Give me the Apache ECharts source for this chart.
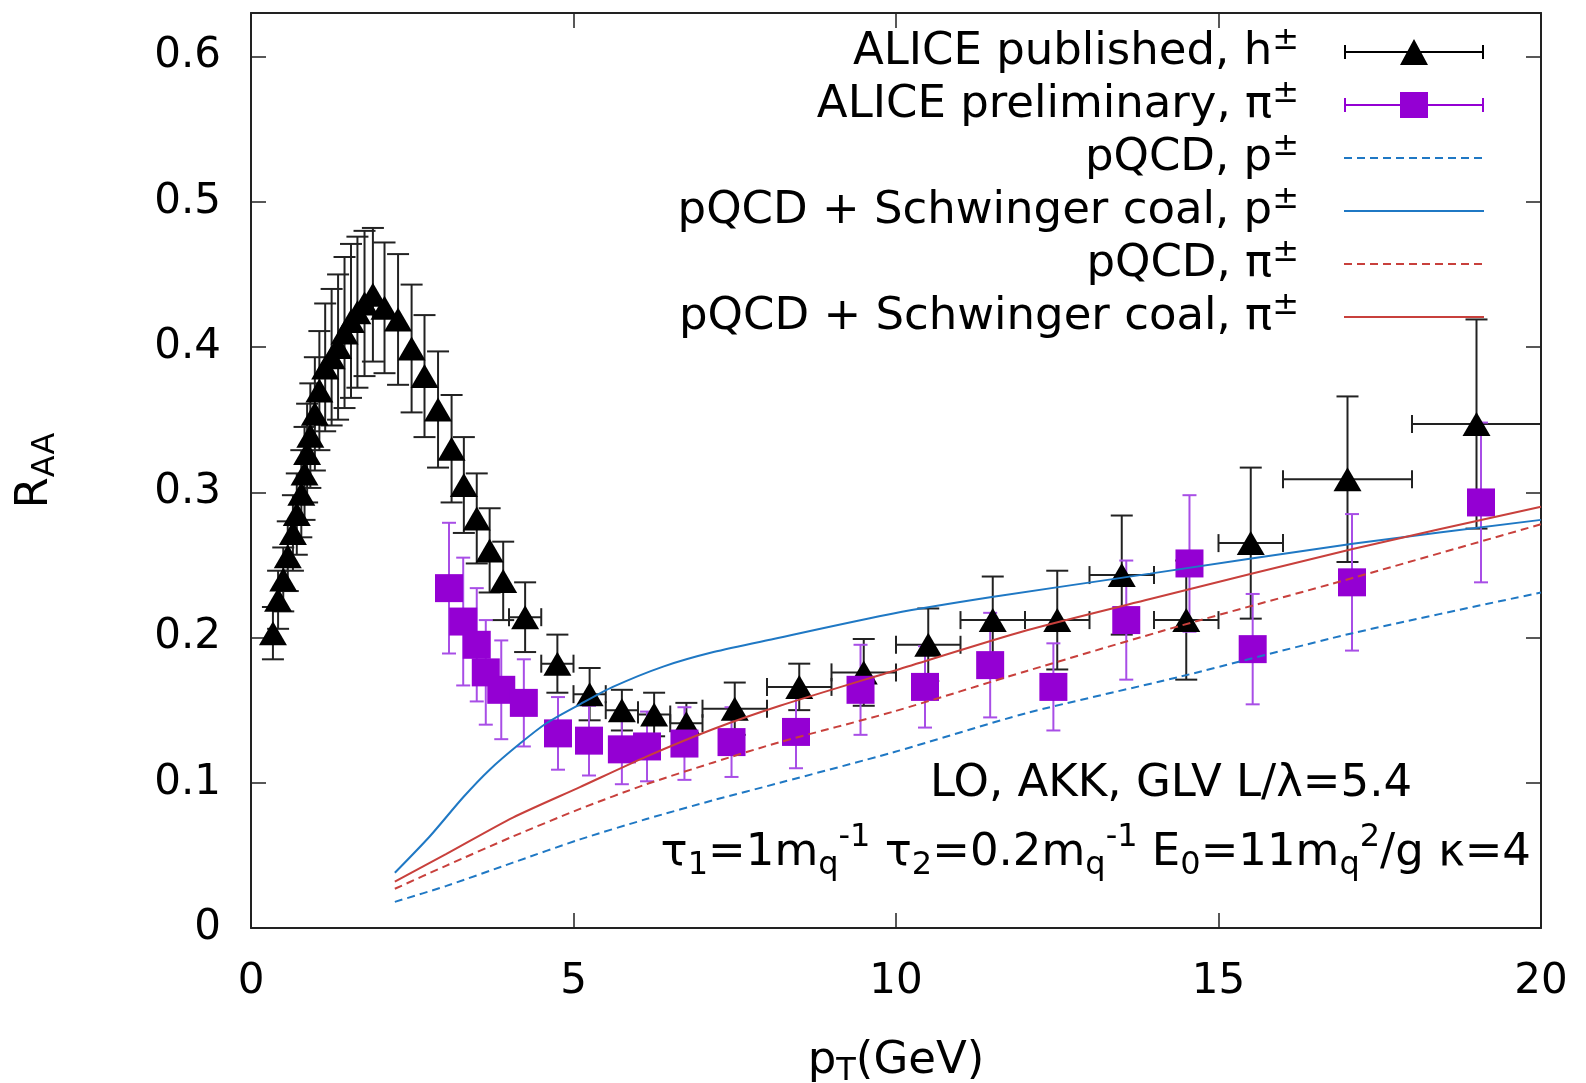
<!DOCTYPE html>
<html><head><meta charset="utf-8">
<script src="https://cdn.jsdelivr.net/npm/echarts/dist/echarts.min.js"></script>
<style>html,body{margin:0;padding:0;background:#fff}#c{width:1586px;height:1083px}</style>
</head><body><div id="c"></div>
<script>
const FONT = 'DejaVu Sans';

// ALICE published, h± (black triangles)
const hX = [0.34,0.42,0.50,0.57,0.65,0.71,0.78,0.83,0.87,0.92,0.99,1.06,1.15,1.25,1.35,1.45,1.55,1.65,1.76,1.89,
            2.07,2.28,2.49,2.69,2.90,3.11,3.30,3.50,3.70,3.91,
            4.25,4.75,5.25,5.75,6.25,6.75,
            7.5,8.5,9.5,10.5,11.5,12.5,13.5,14.5,15.5,17,19];
const hY = [0.203,0.226,0.240,0.256,0.272,0.285,0.299,0.313,0.327,0.339,0.354,0.370,0.386,0.393,0.400,0.410,0.418,0.424,0.430,0.436,
            0.427,0.419,0.399,0.380,0.357,0.330,0.305,0.282,0.260,0.239,
            0.214,0.182,0.161,0.150,0.147,0.141,
            0.151,0.166,0.176,0.195,0.212,0.212,0.243,0.212,0.265,0.309,0.347];
const hErrY = [0.018,0.020,0.022,0.024,0.026,0.028,0.030,0.032,0.034,0.036,0.039,0.041,0.044,0.047,0.050,0.052,0.053,0.052,0.050,0.046,
               0.045,0.045,0.044,0.042,0.040,0.037,0.033,0.031,0.029,0.027,
               0.024,0.020,0.018,0.014,0.015,0.014,
               0.018,0.016,0.023,0.025,0.030,0.034,0.041,0.041,0.052,0.057,0.072];
const hErrX = [0,0,0,0,0,0,0,0,0,0,0,0,0,0,0,0,0,0,0,0,
               0,0,0,0,0,0,0,0,0,0,
               0.25,0.25,0.25,0.25,0.25,0.25,
               0.5,0.5,0.5,0.5,0.5,0.5,0.5,0.5,0.5,1,1];

// ALICE preliminary, π± (purple squares)
const piX = [3.07,3.29,3.50,3.64,3.88,4.23,4.76,5.24,5.75,6.14,6.72,7.45,8.45,9.45,10.45,11.46,12.44,13.57,14.55,15.53,17.07,19.07];
const piY = [0.234,0.211,0.195,0.176,0.164,0.155,0.134,0.129,0.123,0.125,0.127,0.128,0.135,0.164,0.166,0.181,0.166,0.212,0.251,0.192,0.238,0.293];
const piErrY = [0.045,0.044,0.039,0.036,0.034,0.030,0.025,0.024,0.024,0.024,0.025,0.024,0.025,0.031,0.028,0.036,0.030,0.041,0.047,0.038,0.047,0.055];

// Model curves
const pqcdP_X = [2.23,3.03,4.06,5.10,6.13,7.17,8.2,9.96,12.03,14.4,17.08,20];
const pqcdP_Y = [0.018,0.029,0.045,0.061,0.075,0.088,0.100,0.121,0.148,0.173,0.203,0.231];
const coalP_X = [2.23,2.77,3.29,3.70,4.17,4.58,5.10,5.61,6.39,7.17,8.10,9.96,11.51,13.94,17.08,20];
const coalP_Y = [0.038,0.063,0.090,0.109,0.127,0.141,0.154,0.166,0.180,0.190,0.199,0.2165,0.228,0.244,0.2645,0.281];
const pqcdPi_X = [2.23,3.03,4.06,5.10,6.13,7.17,8.2,9.96,12.03,14.4,17.08,20];
const pqcdPi_Y = [0.027,0.043,0.063,0.082,0.099,0.114,0.128,0.149,0.177,0.208,0.241,0.278];
const coalPi_X = [2.23,3.03,4.06,5.10,6.13,7.17,8.2,9.96,12.03,13.94,17.08,20];
const coalPi_Y = [0.032,0.051,0.076,0.097,0.118,0.137,0.153,0.177,0.205,0.2265,0.261,0.290];

const xTicks = [0,5,10,15,20];
const yTicks = [0,0.1,0.2,0.3,0.4,0.5,0.6];

const names = ['ALICE published, h±','ALICE preliminary, π±','pQCD, p±','pQCD + Schwinger coal, p±','pQCD, π±','pQCD + Schwinger coal, π±'];
const BLUE = '#1f78c4', RED = '#c8403c', PURPLE = '#9400d3', PURPLE_ERR = '#a84ee6';

function pairs(xs, ys){ return xs.map((x,i)=>[x, ys[i]]); }

function errBars(nm, xs, ys, ey, ex, color, cap, hcap){
  return {
    type:'custom', name:nm, silent:true, clip:true,
    data: xs.map((x,i)=>[x, ys[i], ey[i], ex ? ex[i] : 0]),
    encode:{x:0, y:1},
    renderItem(params, api){
      const x=api.value(0), y=api.value(1), e=api.value(2), h=api.value(3);
      const c=api.coord([x,y]), t=api.coord([x,y+e]), b=api.coord([x,y-e]);
      const st=()=>({stroke:color, lineWidth:2});
      const ch=[
        {type:'line', shape:{x1:c[0],y1:t[1],x2:c[0],y2:b[1]}, style:st()},
        {type:'line', shape:{x1:c[0]-cap/2,y1:t[1],x2:c[0]+cap/2,y2:t[1]}, style:st()},
        {type:'line', shape:{x1:c[0]-cap/2,y1:b[1],x2:c[0]+cap/2,y2:b[1]}, style:st()}
      ];
      if (h>0){
        const l=api.coord([x-h,y]), r=api.coord([x+h,y]);
        ch.push({type:'line', shape:{x1:l[0],y1:c[1],x2:r[0],y2:c[1]}, style:st()});
        ch.push({type:'line', shape:{x1:l[0],y1:c[1]-hcap/2,x2:l[0],y2:c[1]+hcap/2}, style:st()});
        ch.push({type:'line', shape:{x1:r[0],y1:c[1]-hcap/2,x2:r[0],y2:c[1]+hcap/2}, style:st()});
      }
      return {type:'group', children:ch};
    }
  };
}

function curve(nm, xs, ys, color, dashed){
  return {
    type:'line', name:nm, data:pairs(xs,ys), smooth:0.25, symbol:'none',
    lineStyle:{color:color, width:2, type: dashed ? [8,5] : 'solid'},
    itemStyle:{color:color}, z:5
  };
}

// legend icon paths (box 140 x 26); tiny corner squares fix the bounding box
const BOX = 'M0,0h0.01v0.01h-0.01z M139.99,25.99h0.01v0.01h-0.01z ';
const solidIcon = 'path://' + BOX + 'M0,12h140v2h-140z';
let dashPath = '';
for (let x = 0; x < 140; x += 13) dashPath += 'M' + x + ',12h' + Math.min(8, 140 - x) + 'v2h-' + Math.min(8, 140 - x) + 'z ';
const dashIcon = 'path://' + BOX + dashPath;

const axisLineStyle = {color:'#222', width:2};
const tickStyle = {color:'#222', width:1.5};

const chart = echarts.init(document.getElementById('c'), null, {renderer:'canvas'});
chart.setOption({
  animation:false,
  backgroundColor:'#fff',
  textStyle:{fontFamily:FONT},
  grid:{left:251, right:45, top:13, bottom:155, containLabel:false, outerBoundsMode:'none'},
  xAxis:[
    {type:'value', position:'bottom', min:xTicks[0], max:xTicks[xTicks.length-1], interval:xTicks[1]-xTicks[0],
     axisLine:{show:true, onZero:false, lineStyle:axisLineStyle},
     axisTick:{show:true, inside:true, length:15, lineStyle:tickStyle},
     axisLabel:{fontSize:42, color:'#000', fontFamily:FONT, margin:33},
     splitLine:{show:false},
     name:'{a|p}{b|T}{a|(GeV)}', nameLocation:'middle', nameGap:107,
     nameTextStyle:{color:'#000', fontFamily:FONT, fontSize:45,
       rich:{a:{fontSize:45, fontFamily:FONT, color:'#000', lineHeight:52},
             b:{fontSize:32, fontFamily:FONT, color:'#000', lineHeight:24, padding:[22,0,0,0]}}}},
    {type:'value', position:'top', min:xTicks[0], max:xTicks[xTicks.length-1], interval:xTicks[1]-xTicks[0],
     axisLine:{show:true, onZero:false, lineStyle:axisLineStyle},
     axisTick:{show:true, inside:true, length:15, lineStyle:tickStyle},
     axisLabel:{show:false}, splitLine:{show:false}}
  ],
  yAxis:[
    {type:'value', position:'left', min:yTicks[0], max:0.63, interval:yTicks[1]-yTicks[0],
     axisLine:{show:true, onZero:false, lineStyle:axisLineStyle},
     axisTick:{show:true, inside:true, length:15, lineStyle:tickStyle},
     axisLabel:{fontSize:42, color:'#000', fontFamily:FONT, margin:30, showMaxLabel:false,
       formatter:v=> v===0 ? '0' : v.toFixed(1)},
     splitLine:{show:false},
     name:'{a|R}{b|AA}', nameLocation:'middle', nameGap:190, nameRotate:90,
     nameTextStyle:{color:'#000', fontFamily:FONT, fontSize:45,
       rich:{a:{fontSize:45, fontFamily:FONT, color:'#000', lineHeight:52},
             b:{fontSize:32, fontFamily:FONT, color:'#000', lineHeight:24, padding:[22,0,0,0]}}}},
    {type:'value', position:'right', min:yTicks[0], max:0.63, interval:yTicks[1]-yTicks[0],
     axisLine:{show:true, onZero:false, lineStyle:axisLineStyle},
     axisTick:{show:true, inside:true, length:15, lineStyle:tickStyle},
     axisLabel:{show:false}, splitLine:{show:false}}
  ],
  legend:{
    orient:'vertical', right:97, top:20, align:'right', itemGap:-1,
    itemWidth:140, itemHeight:26, selectedMode:false, padding:5,
    data:[
      {name:names[0], icon:'path://M0,6h2v14h-2z M0,12h140v2h-140z M138,6h2v14h-2z M56,26L70,0L84,26z', itemStyle:{borderWidth:0, color:'#000'}},
      {name:names[1], icon:'path://M0,6h2v14h-2z M0,12h140v2h-140z M138,6h2v14h-2z M56,0h28v26h-28z', itemStyle:{borderWidth:0, color:PURPLE}},
      {name:names[2], icon:dashIcon, itemStyle:{borderWidth:0, color:BLUE}},
      {name:names[3], icon:solidIcon, itemStyle:{borderWidth:0, color:BLUE}},
      {name:names[4], icon:dashIcon, itemStyle:{borderWidth:0, color:RED}},
      {name:names[5], icon:solidIcon, itemStyle:{borderWidth:0, color:RED}}
    ],
    formatter: n => '{t|' + n.slice(0,-1) + '}{s|±}{g|}',
    textStyle:{color:'#000', fontFamily:FONT, fontSize:45, lineHeight:44,
      rich:{t:{fontSize:45, fontFamily:FONT, color:'#000', lineHeight:44},
            s:{fontSize:32, fontFamily:FONT, color:'#000', lineHeight:20, padding:[0,0,22,0]},
            g:{width:40, lineHeight:20}}}
  },
  graphic:[
    {type:'text', x:930, y:784, silent:true,
     style:{text:'LO, AKK, GLV L/λ=5.4', fontSize:45, fontFamily:FONT, fill:'#000', align:'left', verticalAlign:'middle'}},
    {type:'text', x:1531, y:853, silent:true,
     style:{text:'{n|τ}{b|1}{n|=1m}{b|q}{p|-1}{n| τ}{b|2}{n|=0.2m}{b|q}{p|-1}{n| E}{b|0}{n|=11m}{b|q}{p|2}{n|/g κ=4}',
       fontSize:45, fontFamily:FONT, fill:'#000', align:'right', verticalAlign:'middle',
       rich:{n:{fontSize:45, fontFamily:FONT, fill:'#000', lineHeight:56},
             b:{fontSize:32, fontFamily:FONT, fill:'#000', lineHeight:26, padding:[26,0,0,0]},
             p:{fontSize:32, fontFamily:FONT, fill:'#000', lineHeight:26, padding:[0,0,30,0]}}}}
  ],
  series:[
    errBars('errH', hX, hY, hErrY, hErrX, '#222', 22, 18),
    {type:'scatter', name:names[0], data:pairs(hX,hY), symbol:'triangle', symbolSize:[28,24],
     itemStyle:{color:'#000', opacity:1}, z:3},
    errBars('errPi', piX, piY, piErrY, null, PURPLE_ERR, 14, 14),
    {type:'scatter', name:names[1], data:pairs(piX,piY), symbol:'rect', symbolSize:[28,28],
     itemStyle:{color:PURPLE, opacity:1}, z:3},
    curve(names[2], pqcdP_X, pqcdP_Y, BLUE, true),
    curve(names[3], coalP_X, coalP_Y, BLUE, false),
    curve(names[4], pqcdPi_X, pqcdPi_Y, RED, true),
    curve(names[5], coalPi_X, coalPi_Y, RED, false)
  ]
});
</script>
</body></html>
